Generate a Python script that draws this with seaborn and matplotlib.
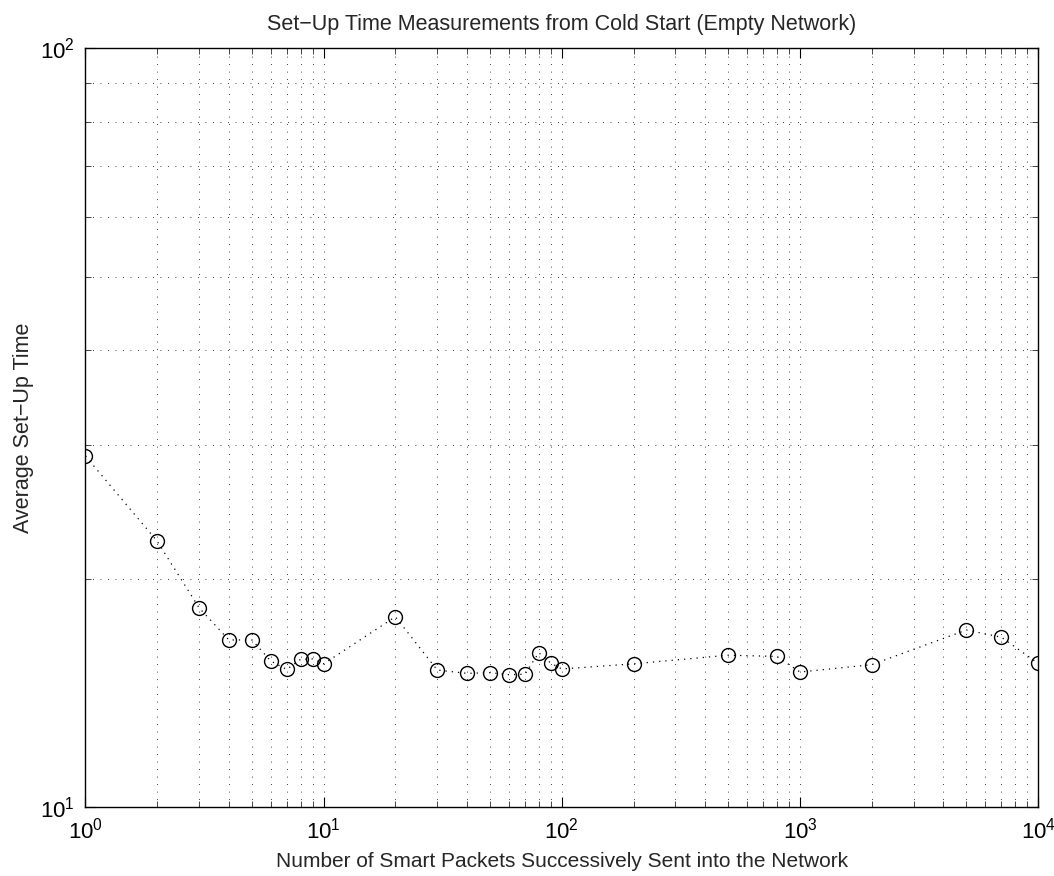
import numpy as np
import pandas as pd
import matplotlib
matplotlib.use("Agg")
import matplotlib.pyplot as plt
import seaborn as sns
from matplotlib.ticker import LogLocator, NullFormatter

# ---- data ----
packets = [1, 2, 3, 4, 5, 6, 7, 8, 9, 10, 20, 30, 40, 50, 60, 70, 80, 90, 100,
           200, 500, 800, 1000, 2000, 5000, 7000, 10000]
setup_time = [29.0, 22.4, 18.3, 16.6, 16.6, 15.57, 15.18, 15.65, 15.67, 15.44,
              17.81, 15.15, 15.0, 15.03, 14.94, 14.96, 15.97, 15.47, 15.2,
              15.44, 15.85, 15.79, 15.06, 15.4, 17.11, 16.74, 15.46]

title = "Set\u2212Up Time Measurements from Cold Start (Empty Network)"
xlabel = "Number of Smart Packets Successively Sent into the Network"
ylabel = "Average Set\u2212Up Time"

sns.set_style("ticks")
plt.rcParams['font.family'] = ['Liberation Sans', 'DejaVu Sans']
plt.rcParams['mathtext.fontset'] = 'custom'
plt.rcParams['mathtext.rm'] = 'Liberation Sans'
plt.rcParams['mathtext.it'] = 'Liberation Sans'

df = pd.DataFrame({"packets": packets, "time": setup_time})

fig = plt.figure(figsize=(10.54, 8.76), dpi=100)
ax = fig.add_axes([0.0811, 0.0788, 0.985 - 0.0811, 0.945 - 0.0788])

sns.lineplot(data=df, x="packets", y="time", ax=ax, color="black",
             linestyle=(0, (1, 4)), linewidth=0.9, marker="o", markersize=10,
             markerfacecolor="none", markeredgecolor="black", markeredgewidth=1.0,
             estimator=None, sort=False)

ax.set_xscale("log")
ax.set_yscale("log")
ax.set_xlim(1, 1e4)
ax.set_ylim(10, 100)

ax.xaxis.set_major_locator(LogLocator(base=10, numticks=10))
ax.xaxis.set_minor_locator(LogLocator(base=10, subs=np.arange(2, 10), numticks=20))
ax.yaxis.set_major_locator(LogLocator(base=10, numticks=10))
ax.yaxis.set_minor_locator(LogLocator(base=10, subs=np.arange(2, 10), numticks=20))
ax.xaxis.set_minor_formatter(NullFormatter())
ax.yaxis.set_minor_formatter(NullFormatter())

ax.grid(True, which="both", color="black", linestyle=(0, (1, 8)), linewidth=0.6)

for s in ax.spines.values():
    s.set_visible(True)
    s.set_color("black")
    s.set_linewidth(1.0)

ax.tick_params(which="major", direction="in", length=7, width=0.8,
               top=True, right=True, labelsize=16, pad=8, colors="black")
ax.tick_params(which="minor", direction="in", length=4, width=0.6,
               top=True, right=True)

ax.set_title(title, fontsize=15.5, pad=13)
ax.set_xlabel(xlabel, fontsize=15, labelpad=6)
ax.set_ylabel(ylabel, fontsize=15.5, labelpad=4)

fig.savefig("out.png", dpi=100, facecolor="white")
